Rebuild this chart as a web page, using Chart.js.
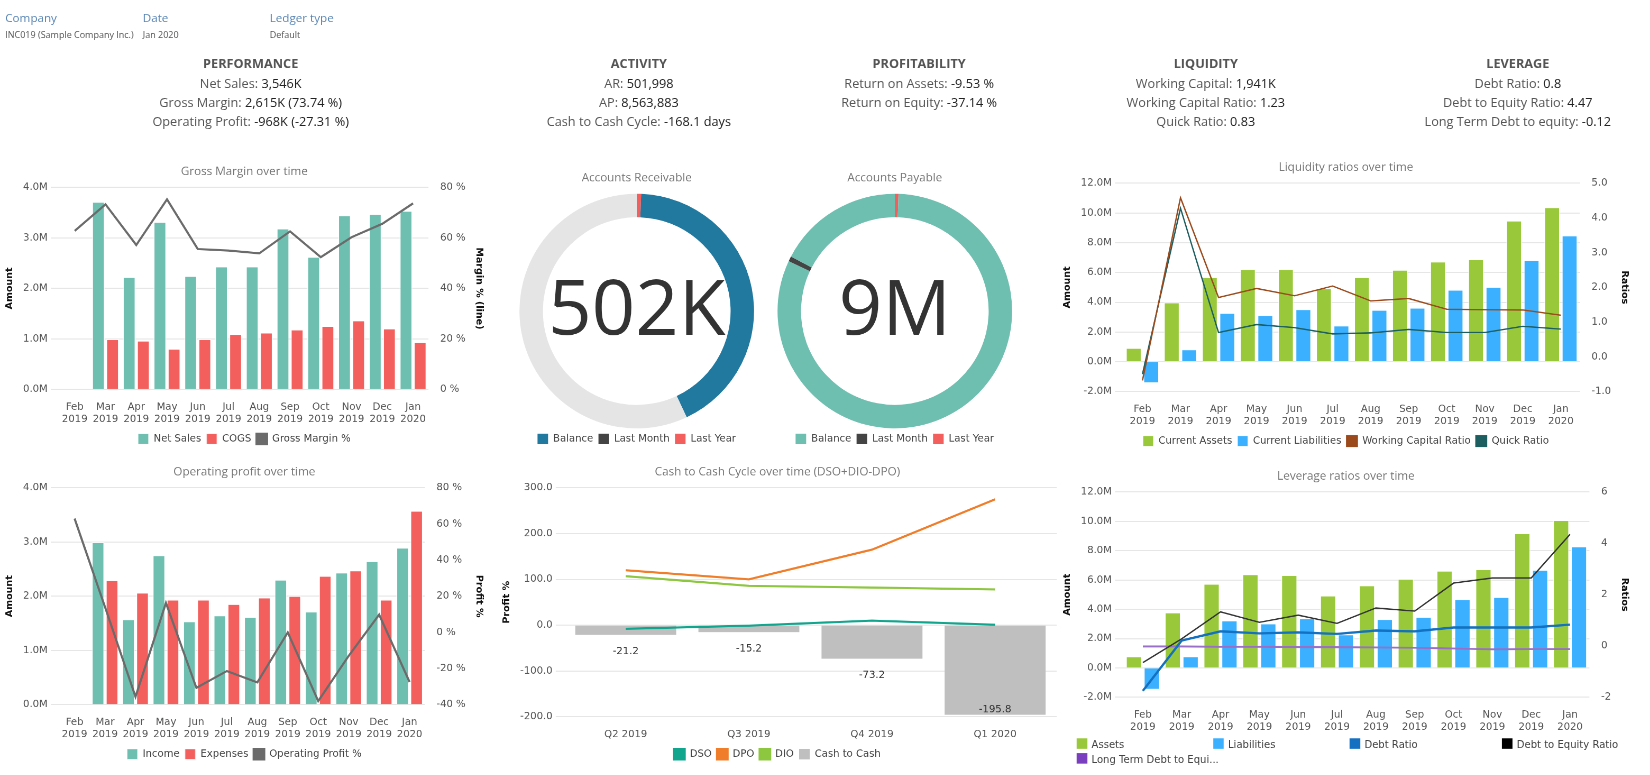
<!DOCTYPE html>
<html>
<head>
<meta charset="utf-8">
<script src="https://cdn.jsdelivr.net/npm/chart.js@4.4.0/dist/chart.umd.min.js"></script>
<style>
body { margin: 0; width: 1650px; height: 775px; background: #fff; font-family: "Open Sans", "DejaVu Sans", sans-serif; overflow: hidden; }
#page { position: absolute; left: 0; top: 0; width: 1560px; height: 733px; transform: scale(1.0577); transform-origin: 0 0; }
.box { position: absolute; }
.hdr { position: absolute; top: 9px; font-size: 11px; color: #5b87b5; }
.hdr div { font-size: 8.5px; color: #555; margin-top: 3px; }
.kpi { position: absolute; top: 51px; width: 300px; text-align: center; font-size: 12px; color: #555; line-height: 18px; }
.kpi b { display: block; font-size: 12px; color: #555; margin-bottom: 1px; }
.kpi span { color: #222; }
.leg { position: absolute; font-family: "DejaVu Sans", sans-serif; font-size: 9.5px; color: #444; }
.leg i { display: inline-block; width: 10px; height: 10px; vertical-align: -1px; margin-right: 4px; }
</style>
</head>
<body>
<div id="page">
<div class="hdr" style="left:5px">Company<div>INC019 (Sample Company Inc.)</div></div>
<div class="hdr" style="left:135px">Date<div>Jan 2020</div></div>
<div class="hdr" style="left:255px">Ledger type<div>Default</div></div>

<div class="kpi" style="left:87px"><b>PERFORMANCE</b>Net Sales: <span>3,546K</span><br>Gross Margin: <span>2,615K (73.74 %)</span><br>Operating Profit: <span>-968K (-27.31 %)</span></div>
<div class="kpi" style="left:454px"><b>ACTIVITY</b>AR: <span>501,998</span><br>AP: <span>8,563,883</span><br>Cash to Cash Cycle: <span>-168.1 days</span></div>
<div class="kpi" style="left:719px"><b>PROFITABILITY</b>Return on Assets: <span>-9.53 %</span><br>Return on Equity: <span>-37.14 %</span></div>
<div class="kpi" style="left:990px"><b>LIQUIDITY</b>Working Capital: <span>1,941K</span><br>Working Capital Ratio: <span>1.23</span><br>Quick Ratio: <span>0.83</span></div>
<div class="kpi" style="left:1285px"><b>LEVERAGE</b>Debt Ratio: <span>0.8</span><br>Debt to Equity Ratio: <span>4.47</span><br>Long Term Debt to equity: <span>-0.12</span></div>

<div class="box" style="left:0;top:152px;width:462px;height:278px"><canvas id="gm"></canvas></div>
<div class="box" style="left:478px;top:158px;width:248px;height:272px"><canvas id="ar"></canvas></div>
<div class="box" style="left:722px;top:158px;width:248px;height:272px"><canvas id="ap"></canvas></div>
<div class="box" style="left:1000px;top:148px;width:545px;height:284px"><canvas id="liq"></canvas></div>
<div class="box" style="left:0;top:436px;width:462px;height:292px"><canvas id="op"></canvas></div>
<div class="box" style="left:470px;top:436px;width:530px;height:292px"><canvas id="cc"></canvas></div>
<div class="box" style="left:1000px;top:440px;width:545px;height:256px"><canvas id="lev"></canvas></div>
<div class="leg" style="left:1018px;top:698px"><i style="background:#99c93a"></i>Assets</div>
<div class="leg" style="left:1147px;top:698px"><i style="background:#3ab0ff"></i>Liabilities</div>
<div class="leg" style="left:1276px;top:698px"><i style="background:#1470c0"></i>Debt Ratio</div>
<div class="leg" style="left:1420px;top:698px"><i style="background:#000"></i>Debt to Equity Ratio</div>
<div class="leg" style="left:1018px;top:712px"><i style="background:#7a3fbf"></i>Long Term Debt to Equi...</div>
</div>

<script>
// months and quarters
var months = [['Feb','2019'],['Mar','2019'],['Apr','2019'],['May','2019'],['Jun','2019'],['Jul','2019'],
    ['Aug','2019'],['Sep','2019'],['Oct','2019'],['Nov','2019'],['Dec','2019'],['Jan','2020']];
var quarters = ['Q2 2019','Q3 2019','Q4 2019','Q1 2020'];

// gross margin (amounts in M)
var netSales = [0, 3.72, 2.23, 3.32, 2.25, 2.44, 2.44, 3.19, 2.63, 3.45, 3.48, 3.54];
var cogs = [0, 1.0, 0.97, 0.81, 1.0, 1.1, 1.13, 1.19, 1.26, 1.37, 1.21, 0.94];
var grossMarginPct = [62.8, 73.3, 57.2, 75.3, 55.6, 55.0, 53.9, 62.6, 52.4, 60.3, 65.6, 73.7];

// operating profit
var income = [0, 3.0, 1.58, 2.76, 1.54, 1.65, 1.62, 2.31, 1.72, 2.44, 2.65, 2.9];
var expenses = [0, 2.3, 2.07, 1.94, 1.94, 1.86, 1.98, 2.01, 2.38, 2.48, 1.94, 3.58];
var opProfitPct = [63, 14, -35.6, 16.3, -30.7, -21.4, -27.7, 0, -38, -13, 9.8, -27.5];

// liquidity
var currentAssets = [0.95, 4.0, 5.7, 6.25, 6.25, 4.95, 5.7, 6.2, 6.75, 6.9, 9.5, 10.4];
var currentLiabilities = [-1.45, 0.85, 3.3, 3.15, 3.55, 2.45, 3.5, 3.65, 4.85, 5.05, 6.85, 8.5];
var workingCapitalRatio = [-0.68, 4.58, 1.71, 1.97, 1.76, 2.04, 1.61, 1.68, 1.37, 1.36, 1.35, 1.2];
var quickRatio = [-0.5, 4.28, 0.7, 0.93, 0.84, 0.66, 0.69, 0.79, 0.7, 0.7, 0.88, 0.8];

// leverage
var assets = [0.8, 3.8, 5.75, 6.4, 6.35, 4.95, 5.65, 6.1, 6.65, 6.75, 9.2, 10.1];
var liabilities = [-1.5, 0.8, 3.25, 3.05, 3.4, 2.3, 3.35, 3.5, 4.7, 4.85, 6.7, 8.3];
var debtRatio = [-1.75, 0.21, 0.57, 0.49, 0.53, 0.47, 0.6, 0.57, 0.72, 0.72, 0.72, 0.83];
var debtToEquity = [-0.65, 0.28, 1.33, 0.92, 1.2, 0.88, 1.48, 1.36, 2.45, 2.65, 2.65, 4.35];
var ltDebtToEquity = [-0.02, -0.02, -0.03, -0.03, -0.04, -0.05, -0.06, -0.07, -0.1, -0.13, -0.12, -0.12];

// cash to cash cycle
var dso = [-8, -1, 10, 1];
var dpo = [120, 100, 165, 275];
var dio = [107, 86, 82, 78];
var cashToCash = [-21.2, -15.2, -73.2, -195.8];

// doughnuts: [last year marker, balance, remainder]
var arSlices = [0.006, 0.424, 0.57];
var apSlices = [0.005, 0.815, 0.007, 0.173];

Chart.defaults.font.family = '"DejaVu Sans", sans-serif';
Chart.defaults.font.size = 9.5;
Chart.defaults.color = '#555';
Chart.defaults.animation = false;
Chart.defaults.devicePixelRatio = 2;

var TEAL = '#6fbfb0', RED = '#f25f5c', LINE = '#6b6b6b', GREEN = '#99c93a', BLUE = '#3ab0ff';

function titleOpt(text) {
    return { display: true, text: text, color: '#777', font: { size: 11, weight: 'normal', family: '"Open Sans", sans-serif' }, padding: { top: 4, bottom: 8 } };
}
function legendOpt() {
    return { position: 'bottom', labels: { boxWidth: 10, boxHeight: 10, padding: 5, color: '#444',
        sort: function (a, b) { return a.datasetIndex - b.datasetIndex; } } };
}
function axisTitle(text) {
    return { display: true, text: text, color: '#111', font: { size: 9, weight: 'bold' } };
}
function mAxis(min, max, step) {
    return {
        position: 'left', min: min, max: max, border: { display: false },
        ticks: { stepSize: step, callback: function (v) { return v.toFixed(1) + 'M'; } },
        grid: { color: '#e6e6e6' }, title: axisTitle('Amount')
    };
}
var xAxis = { grid: { display: false }, border: { display: false }, ticks: { maxRotation: 0, autoSkip: false } };

function barSet(label, data, color) {
    return { type: 'bar', label: label, data: data, backgroundColor: color, borderColor: 'rgba(255,255,255,0.6)', borderWidth: 1,
        categoryPercentage: 0.92, barPercentage: 0.92, yAxisID: 'y', order: 2 };
}
function lineSet(label, data, color, width, axis) {
    return { type: 'line', label: label, data: data, borderColor: color, backgroundColor: color, borderWidth: width,
        pointRadius: 0, tension: 0, yAxisID: axis || 'y1', order: 1 };
}

// 매출 총이익
new Chart(document.getElementById('gm'), {
    data: { labels: months, datasets: [
        barSet('Net Sales', netSales, TEAL), barSet('COGS', cogs, RED),
        lineSet('Gross Margin %', grossMarginPct, LINE, 2)] },
    options: { responsive: true, maintainAspectRatio: false,
        plugins: { title: titleOpt('Gross Margin over time'), legend: legendOpt(), tooltip: { enabled: false } },
        scales: { x: xAxis, y: mAxis(0, 4, 1),
            y1: { position: 'right', min: 0, max: 80, border: { display: false }, grid: { display: false },
                ticks: { stepSize: 20, callback: function (v) { return v + ' %'; } }, title: axisTitle('Margin % (line)') } } }
});

// 영업이익
new Chart(document.getElementById('op'), {
    data: { labels: months, datasets: [
        barSet('Income', income, TEAL), barSet('Expenses', expenses, RED),
        lineSet('Operating Profit %', opProfitPct, LINE, 2)] },
    options: { responsive: true, maintainAspectRatio: false,
        plugins: { title: titleOpt('Operating profit over time'), legend: legendOpt(), tooltip: { enabled: false } },
        scales: { x: xAxis, y: mAxis(0, 4, 1),
            y1: { position: 'right', min: -40, max: 80, border: { display: false }, grid: { display: false },
                ticks: { stepSize: 20, callback: function (v) { return v + ' %'; } }, title: axisTitle('Profit %') } } }
});

// 유동성
new Chart(document.getElementById('liq'), {
    data: { labels: months, datasets: [
        barSet('Current Assets', currentAssets, GREEN), barSet('Current Liabilities', currentLiabilities, BLUE),
        lineSet('Working Capital Ratio', workingCapitalRatio, '#9b4a1c', 1.3),
        lineSet('Quick Ratio', quickRatio, '#1d5e60', 1.3)] },
    options: { responsive: true, maintainAspectRatio: false,
        plugins: { title: titleOpt('Liquidity ratios over time'), legend: legendOpt(), tooltip: { enabled: false } },
        scales: { x: xAxis, y: mAxis(-2, 12, 2),
            y1: { position: 'right', min: -1, max: 5, border: { display: false }, grid: { display: false },
                ticks: { stepSize: 1, callback: function (v) { return v.toFixed(1); } }, title: axisTitle('Ratios') } } }
});

// 레버리지
new Chart(document.getElementById('lev'), {
    data: { labels: months, datasets: [
        barSet('Assets', assets, GREEN), barSet('Liabilities', liabilities, BLUE),
        lineSet('Debt Ratio', debtRatio, '#1470c0', 2.2),
        lineSet('Debt to Equity Ratio', debtToEquity, '#333', 1.3),
        lineSet('Long Term Debt to Equity', ltDebtToEquity, '#9a6fc8', 1.8)] },
    options: { responsive: true, maintainAspectRatio: false,
        plugins: { title: titleOpt('Leverage ratios over time'), legend: { display: false }, tooltip: { enabled: false } },
        scales: { x: xAxis, y: mAxis(-2, 12, 2),
            y1: { position: 'right', min: -2, max: 6, border: { display: false }, grid: { display: false },
                ticks: { stepSize: 2 }, title: axisTitle('Ratios') } } }
});

// 현금순환주기 막대 라벨
var barLabels = {
    id: 'barLabels',
    afterDatasetsDraw: function (chart) {
        var ctx = chart.ctx, meta = chart.getDatasetMeta(3), area = chart.chartArea;
        ctx.save();
        ctx.font = '9.5px "DejaVu Sans", sans-serif';
        ctx.fillStyle = '#333';
        ctx.textAlign = 'center';
        meta.data.forEach(function (bar, i) {
            var y = bar.y + 16;
            if (y > area.bottom - 2) y = bar.y - 5;
            ctx.fillText(cashToCash[i].toFixed(1), bar.x, y);
        });
        ctx.restore();
    }
};
new Chart(document.getElementById('cc'), {
    data: { labels: quarters, datasets: [
        lineSet('DSO', dso, '#12a58e', 2, 'y'),
        lineSet('DPO', dpo, '#f07d2a', 2, 'y'),
        lineSet('DIO', dio, '#8dc63f', 2, 'y'),
        { type: 'bar', label: 'Cash to Cash', data: cashToCash, backgroundColor: '#bfbfbf', categoryPercentage: 0.82, barPercentage: 1, order: 2 }] },
    options: { responsive: true, maintainAspectRatio: false,
        plugins: { title: { display: true, text: 'Cash to Cash Cycle over time (DSO+DIO-DPO)', color: '#777', font: { size: 11, weight: 'normal', family: '"Open Sans", sans-serif' }, padding: { top: 4, bottom: 8 } },
            legend: legendOpt(), tooltip: { enabled: false } },
        scales: { x: xAxis,
            y: { min: -200, max: 300, border: { display: false }, grid: { color: '#e6e6e6' },
                ticks: { stepSize: 100, callback: function (v) { return v.toFixed(1); } }, title: axisTitle('Profit %') } } },
    plugins: [barLabels]
});

// 도넛 중앙 텍스트
function centerText(text) {
    return {
        id: 'center',
        afterDraw: function (chart) {
            var m = chart.getDatasetMeta(0).data[0];
            var ctx = chart.ctx;
            ctx.save();
            ctx.font = '72px "Open Sans", sans-serif';
            ctx.fillStyle = '#333';
            ctx.textAlign = 'center';
            ctx.textBaseline = 'middle';
            ctx.fillText(text, m.x, m.y + 2);
            ctx.restore();
        }
    };
}
function donut(id, title, slices, colors, balanceColor, text) {
    new Chart(document.getElementById(id), {
        type: 'doughnut',
        data: { labels: colors.map(function (c, i) { return 'slice' + i; }),
            datasets: [{ data: slices, backgroundColor: colors, borderWidth: 0 }] },
        options: { responsive: true, maintainAspectRatio: false, cutout: '80%',
            plugins: { title: titleOpt(title), tooltip: { enabled: false },
                legend: { position: 'bottom', onClick: null, labels: { boxWidth: 10, boxHeight: 10, padding: 5, color: '#444',
                    generateLabels: function () {
                        return [['Balance', balanceColor], ['Last Month', '#444'], ['Last Year', RED]].map(function (l) {
                            return { text: l[0], fillStyle: l[1], strokeStyle: l[1], lineWidth: 0, fontColor: '#444' };
                        });
                    } } } } },
        plugins: [centerText(text)]
    });
}
donut('ar', 'Accounts Receivable', arSlices, [RED, '#21799f', '#e5e5e5'], '#21799f', '502K');
donut('ap', 'Accounts Payable', apSlices, [RED, TEAL, '#444', TEAL], TEAL, '9M');
</script>
</body>
</html>
